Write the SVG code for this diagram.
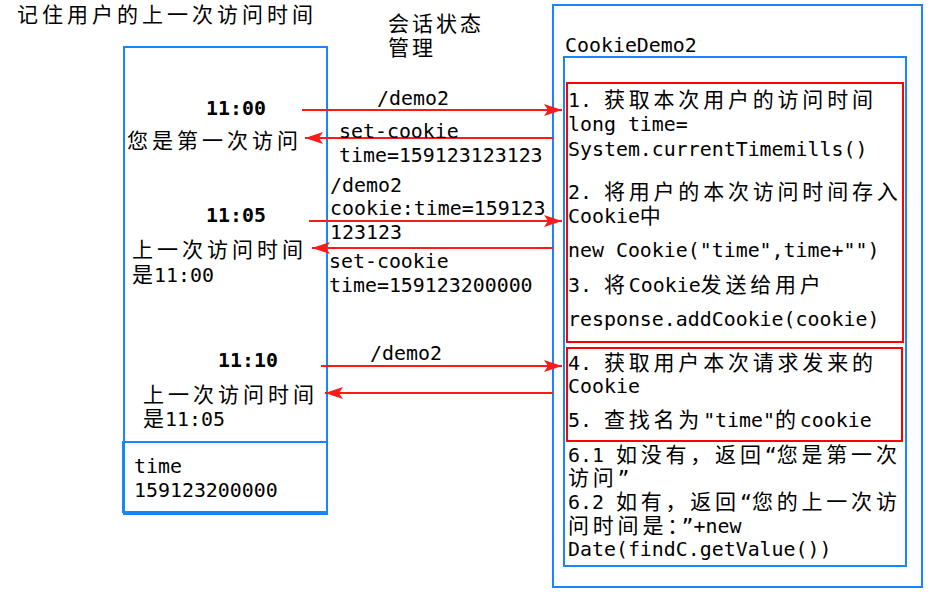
<svg xmlns="http://www.w3.org/2000/svg" width="949" height="594" viewBox="0 0 949 594">
<style>
.bg{fill:#fff}
.blue{fill:none;stroke:#1a84ff;stroke-width:2}
.red{fill:none;stroke:#ff0000;stroke-width:2}
.arr{stroke:#ff1a1a;stroke-width:2;fill:none;marker-end:url(#ah)}
.m{font-family:"DejaVu Sans Mono","Liberation Mono","Noto Sans CJK SC",monospace;font-size:19.9px;fill:#000}
.b{font-weight:bold}
.c{font-family:"Noto Sans CJK SC","Noto Sans CJK JP",sans-serif;font-size:21px;letter-spacing:3.8px}
.cl{font-family:"Noto Sans CJK SC","Noto Sans CJK JP",sans-serif;font-size:21px;letter-spacing:4px;fill:#000}
</style>
<defs>
<marker id="ah" markerUnits="userSpaceOnUse" markerWidth="20" markerHeight="14" refX="18" refY="6" orient="auto">
<path d="M0,0 L18,6 L0,12 L4,6 z" fill="#ff1a1a"/>
</marker>
</defs>
<rect class="bg" x="0" y="0" width="949" height="594"/>

<g id="title">
<text class="cl" x="17" y="22">记住用户的上一次访问时间</text>
</g>
<g id="session-label">
<text class="cl" x="388" y="31" style="letter-spacing:3px">会话状态</text>
<text class="cl" x="388" y="55" style="letter-spacing:3px">管理</text>
</g>

<g id="browser">
<rect class="blue" x="124" y="47" width="203" height="467"/>
<text class="m b" x="206" y="115">11:00</text>
<text class="cl" x="127" y="148">您是第一次访问</text>
<text class="m b" x="206" y="222">11:05</text>
<text class="cl" x="132" y="257">上一次访问时间</text>
<text class="m" x="132" y="282"><tspan class="c" style="letter-spacing:1px">是</tspan>11:00</text>
<text class="m b" x="218" y="367">11:10</text>
<text class="cl" x="143" y="402">上一次访问时间</text>
<text class="m" x="143" y="426"><tspan class="c" style="letter-spacing:1px">是</tspan>11:05</text>
</g>

<g id="cookie-store">
<rect class="blue" x="123" y="442" width="204" height="70"/>
<text class="m" x="134" y="473">time</text>
<text class="m" x="134" y="497">159123200000</text>
</g>

<g id="server">
<rect class="blue" x="553" y="5" width="369" height="582"/>
<text class="m" x="565" y="52">CookieDemo2</text>
<rect class="blue" x="564" y="57" width="342" height="509"/>
</g>

<g id="step1-3">
<rect class="red" x="567" y="83" width="336" height="259"/>
<text class="m" x="568" y="107">1. <tspan class="c">获取本次用户的访问时间</tspan></text>
<text class="m" x="568" y="131">long time=</text>
<text class="m" x="568" y="156">System.currentTimemills()</text>
<text class="m" x="568" y="199">2. <tspan class="c">将用户的本次访问时间存入</tspan></text>
<text class="m" x="568" y="223">Cookie<tspan class="c">中</tspan></text>
<text class="m" x="568" y="257">new Cookie("time",time+"")</text>
<text class="m" x="568" y="292">3. <tspan class="c">将</tspan>Cookie<tspan class="c">发送给用户</tspan></text>
<text class="m" x="568" y="326">response.addCookie(cookie)</text>
</g>

<g id="step4-5">
<rect class="red" x="567" y="348" width="335" height="93"/>
<text class="m" x="568" y="370">4. <tspan class="c">获取用户本次请求发来的</tspan></text>
<text class="m" x="568" y="393">Cookie</text>
<text class="m" x="568" y="427">5. <tspan class="c">查找名为</tspan>"time"<tspan class="c">的</tspan>cookie</text>
</g>

<g id="step6">
<text class="m" x="568" y="462">6.1 <tspan class="c">如没有，返回</tspan>“<tspan class="c">您是第一次</tspan></text>
<text class="m" x="568" y="485"><tspan class="c">访问</tspan>”</text>
<text class="m" x="568" y="509">6.2 <tspan class="c">如有，返回</tspan>“<tspan class="c">您的上一次访</tspan></text>
<text class="m" x="568" y="533"><tspan class="c">问时间是：</tspan>”+new</text>
<text class="m" x="568" y="556">Date(findC.getValue())</text>
</g>

<g id="connectors">
<line class="arr" x1="302" y1="110" x2="562" y2="110"/>
<line class="arr" x1="553" y1="138" x2="305" y2="138"/>
<line class="arr" x1="309" y1="221" x2="562" y2="221"/>
<line class="arr" x1="553" y1="248" x2="312" y2="248"/>
<line class="arr" x1="321" y1="366" x2="562" y2="366"/>
<line class="arr" x1="553" y1="393" x2="325" y2="393"/>
</g>

<g id="connector-labels">
<text class="m" x="377" y="105">/demo2</text>
<text class="m" x="339" y="138">set-cookie</text>
<text class="m" x="339" y="162">time=159123123123</text>
<text class="m" x="330" y="192">/demo2</text>
<text class="m" x="330" y="215">cookie:time=159123</text>
<text class="m" x="330" y="239">123123</text>
<text class="m" x="329" y="268">set-cookie</text>
<text class="m" x="329" y="292">time=159123200000</text>
<text class="m" x="370" y="360">/demo2</text>
</g>
</svg>
